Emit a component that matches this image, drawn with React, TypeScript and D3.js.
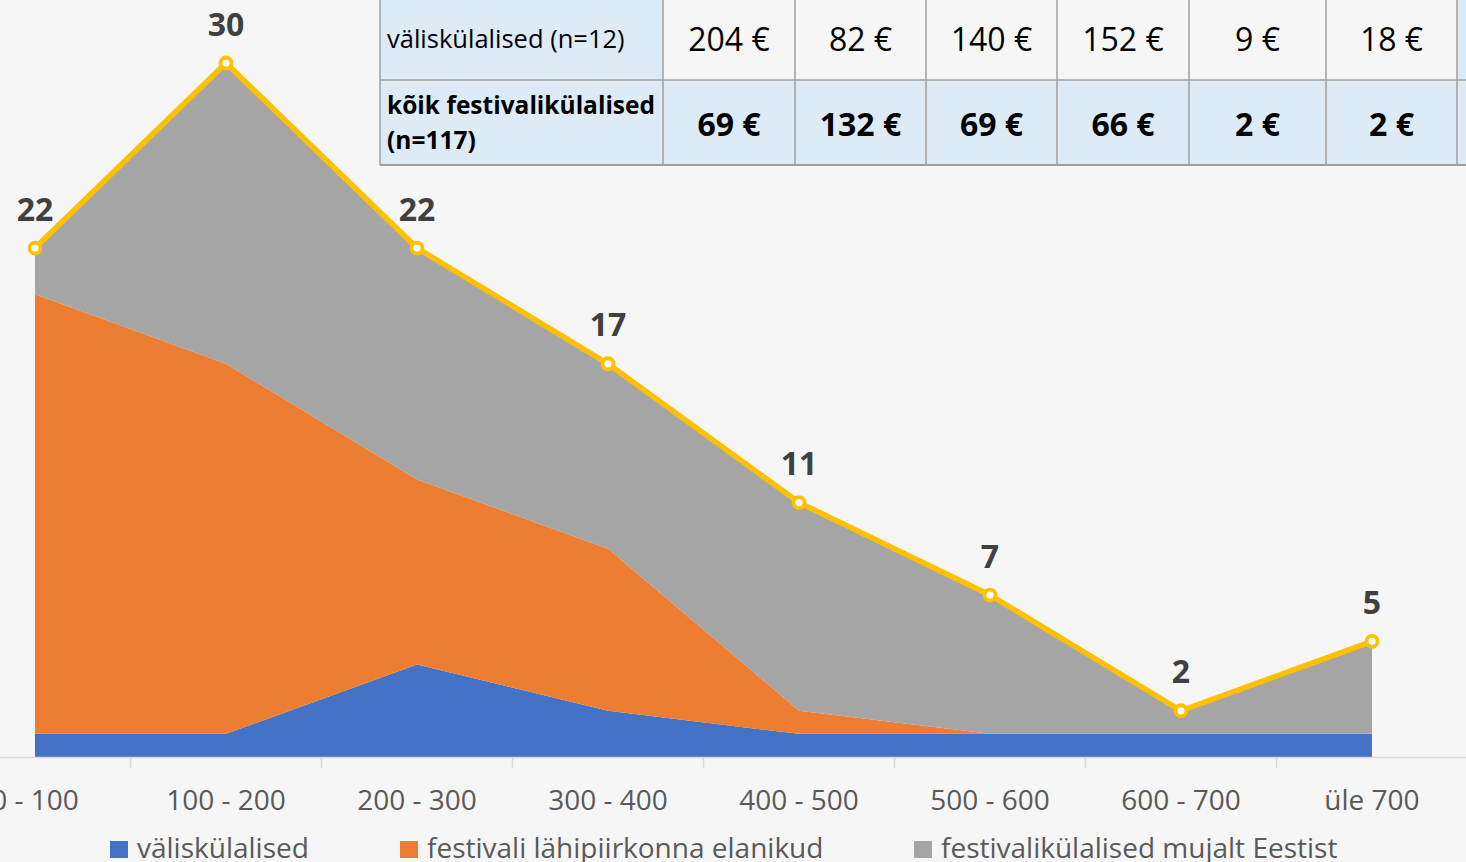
import React from "react";
import * as d3 from "d3";

// ---------- data ----------
const categories = ["0 - 100", "100 - 200", "200 - 300", "300 - 400", "400 - 500", "500 - 600", "600 - 700", "üle 700"];
const valiskulalised = [1, 1, 4, 2, 1, 1, 1, 1];
const lahipiirkond = [19, 16, 8, 7, 1, 0, 0, 0];
const mujaltEestist = [2, 13, 10, 8, 9, 6, 1, 4];
const totals = [22, 30, 22, 17, 11, 7, 2, 5];

const seriesNames = ["väliskülalised", "festivali lähipiirkonna elanikud", "festivalikülalised mujalt Eestist"];
const seriesColors = ["#4472C4", "#ED7D31", "#A5A5A5"];

const tableRow1Label = "väliskülalised (n=12)";
const tableRow1 = [204, 82, 140, 152, 9, 18];
const tableRow2Label = ["kõik festivalikülalised", "(n=117)"];
const tableRow2 = [69, 132, 69, 66, 2, 2];

// ---------- layout ----------
const W = 1466;
const H = 862;
const FONT = "'Open Sans', 'DejaVu Sans', sans-serif";
const baseY = 757;
const colEdges = [380, 663, 795, 926, 1057, 1189, 1326, 1457];
const rowEdges = [-10, 80, 165];
const lightBlue = "#DDEBF7";
const bg = "#F6F6F6";

export default function App() {
  const x = d3.scalePoint<string>().domain(categories).range([-60.5, 1467.5]).padding(0.5);
  const y = d3.scaleLinear().domain([0, 30]).range([baseY, 63]);

  const rows = categories.map((c, i) => ({
    cat: c,
    a: valiskulalised[i],
    b: lahipiirkond[i],
    c2: mujaltEestist[i],
  }));
  const stack = d3.stack<any>().keys(["a", "b", "c2"]);
  const stacked = stack(rows);
  const area = d3
    .area<any>()
    .x((d) => x(d.data.cat) as number)
    .y0((d) => y(d[0]))
    .y1((d) => y(d[1]));
  const line = d3
    .line<number>()
    .x((_, i) => x(categories[i]) as number)
    .y((d) => y(d));

  const step = x.step();
  const boundaries = categories.slice(1).map((c) => (x(c) as number) - step / 2);

  const legendX = [110, 400, 914];

  return (
    <svg
      width={W}
      height={H}
      style={{ position: "absolute", left: 0, top: 0, background: bg }}
      fontFamily={FONT}
    >
      <rect x={0} y={0} width={W} height={H} fill={bg} />

      {/* stacked areas */}
      {stacked.map((s, i) => (
        <path key={i} d={area(s) as string} fill={seriesColors[i]} />
      ))}

      {/* axis */}
      <line x1={0} x2={W} y1={baseY + 0.5} y2={baseY + 0.5} stroke="#D9D9D9" strokeWidth={1.5} />
      {boundaries.map((bx, i) => (
        <line key={i} x1={bx} x2={bx} y1={baseY} y2={baseY + 11} stroke="#D9D9D9" strokeWidth={1.5} />
      ))}
      {categories.map((c) => (
        <text key={c} x={x(c) as number} y={810} textAnchor="middle" fontSize={28} fill="#595959">
          {c}
        </text>
      ))}

      {/* total line */}
      <path d={line(totals) as string} fill="none" stroke="#FFC000" strokeWidth={5.5} strokeLinejoin="round" />
      {totals.map((v, i) => (
        <g key={i}>
          <circle cx={x(categories[i]) as number} cy={y(v)} r={5.5} fill="#FFFFFF" stroke="#FFC000" strokeWidth={3.8} />
          <text
            x={x(categories[i]) as number}
            y={y(v) - 27.5}
            textAnchor="middle"
            fontSize={32}
            fontWeight="bold"
            fill="#404040"
          >
            {v}
          </text>
        </g>
      ))}

      {/* legend */}
      {seriesNames.map((n, i) => (
        <g key={n}>
          <rect x={legendX[i]} y={841} width={18} height={17} fill={seriesColors[i]} />
          <text x={legendX[i] + 27} y={858} fontSize={28} fill="#595959">
            {n}
          </text>
        </g>
      ))}

      {/* table */}
      <g>
        <rect x={colEdges[0]} y={rowEdges[0]} width={colEdges[1] - colEdges[0]} height={rowEdges[1] - rowEdges[0]} fill={lightBlue} />
        <rect x={colEdges[1]} y={rowEdges[0]} width={colEdges[7] - colEdges[1]} height={rowEdges[1] - rowEdges[0]} fill={bg} />
        <rect x={colEdges[0]} y={rowEdges[1]} width={colEdges[7] - colEdges[0]} height={rowEdges[2] - rowEdges[1]} fill={lightBlue} />
        <rect x={colEdges[7]} y={rowEdges[0]} width={W - colEdges[7] + 5} height={rowEdges[2] - rowEdges[0]} fill={lightBlue} />
        {colEdges.map((cx, i) => (
          <line key={i} x1={cx} x2={cx} y1={rowEdges[0]} y2={rowEdges[2]} stroke="#A0A0A0" strokeWidth={1.5} />
        ))}
        <line x1={colEdges[0]} x2={W} y1={rowEdges[1]} y2={rowEdges[1]} stroke="#A0A0A0" strokeWidth={1.5} />
        <line x1={colEdges[0]} x2={W} y1={rowEdges[2]} y2={rowEdges[2]} stroke="#A0A0A0" strokeWidth={2} />

        <text x={387} y={48} fontSize={25.5} fill="#000">
          {tableRow1Label}
        </text>
        <text x={387} y={114} fontSize={24.5} fontWeight="bold" fill="#000">
          {tableRow2Label[0]}
        </text>
        <text x={387} y={149} fontSize={24.5} fontWeight="bold" fill="#000">
          {tableRow2Label[1]}
        </text>
        {tableRow1.map((v, i) => (
          <text
            key={i}
            x={(colEdges[i + 1] + colEdges[i + 2]) / 2}
            y={51}
            textAnchor="middle"
            fontSize={32}
            fill="#000"
          >
            {v + " €"}
          </text>
        ))}
        {tableRow2.map((v, i) => (
          <text
            key={i}
            x={(colEdges[i + 1] + colEdges[i + 2]) / 2}
            y={136}
            textAnchor="middle"
            fontSize={32}
            fontWeight="bold"
            fill="#000"
          >
            {v + " €"}
          </text>
        ))}
      </g>
    </svg>
  );
}
